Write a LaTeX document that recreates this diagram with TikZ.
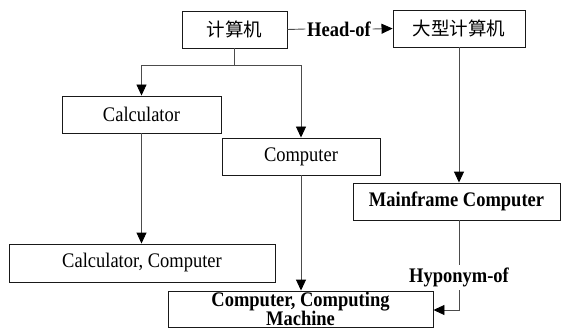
\documentclass[tikz,border=0pt]{standalone}
\usepackage{fontspec}
\usepackage{graphicx}
\setmainfont{Liberation Serif}
\newfontfamily\cjk{Noto Sans CJK SC}
\usetikzlibrary{arrows.meta}
\newcommand\vsc[1]{\scalebox{1}[1.12]{#1}}
\tikzset{
  box/.style={draw=black!90, line width=0.9pt, inner sep=0pt, font=\fontsize{18.5}{20}\selectfont, align=center},
  conn/.style={draw=black!70, line width=0.9pt},
  arr/.style={conn, -{Triangle[length=11pt,width=10pt,black]}},
  lbl/.style={inner sep=0pt, font=\fontsize{18.5}{20}\selectfont\bfseries}
}
\begin{document}
\begin{tikzpicture}[x=1pt,y=-1pt]
\useasboundingbox (0,0) rectangle (563,329);
\node[box, minimum width=105pt, minimum height=37pt] (jsj) at (234.5,29.5) {\cjk 计算机};
\node[box, minimum width=132pt, minimum height=37pt] (dx) at (459,28.5) {\cjk 大型计算机};
\node[box, minimum width=159pt, minimum height=37pt] (calc) at (141.5,114.5) {\vsc{Calculator}};
\node[box, minimum width=158pt, minimum height=37pt] (comp) at (301,156.5) {\vsc{Computer}};
\node[box, minimum width=207pt, minimum height=37pt, font=\fontsize{18.5}{20}\selectfont\bfseries] (main) at (456.5,201.5) {\vsc{Mainframe Computer}};
\node[box, minimum width=266pt, minimum height=38pt] (cc) at (142,263) {\vsc{Calculator, Computer}};
\node[box, minimum width=265pt, minimum height=36pt, font=\fontsize{18.5}{20.5}\selectfont\bfseries] (bot) at (300.5,309) {\vsc{Computer, Computing}\\[-1pt]\vsc{Machine}};
\node[lbl, inner xsep=1.5pt, minimum height=20pt] (head) at (339,29) {\vsc{Head-of}};
\node[lbl, minimum height=25pt] (hyp) at (459,277.5) {\vsc{Hyponym-of}};
\coordinate (br) at (234,65);
\coordinate (hk) at (459,310);
% head-of
\draw[conn] (jsj.east) -- (head.west);
\draw[arr] (head.east) -- (dx.west);
% branches
\draw[conn] (jsj.south -| br) -- (br);
\draw[arr] (br) -| (calc.north);
\draw[arr] (br) -| (comp.north);
\draw[arr] (calc.south) -- (cc.north -| calc.south);
\draw[arr] (comp.south) -- (bot.north -| comp.south);
\draw[arr] (dx.south) -- (main.north -| dx.south);
% hyponym
\draw[conn] (main.south -| hyp.north) -- (hyp.north);
\draw[arr] (hyp.south) -- (hk) -- (hk -| bot.east);
\end{tikzpicture}
\end{document}
